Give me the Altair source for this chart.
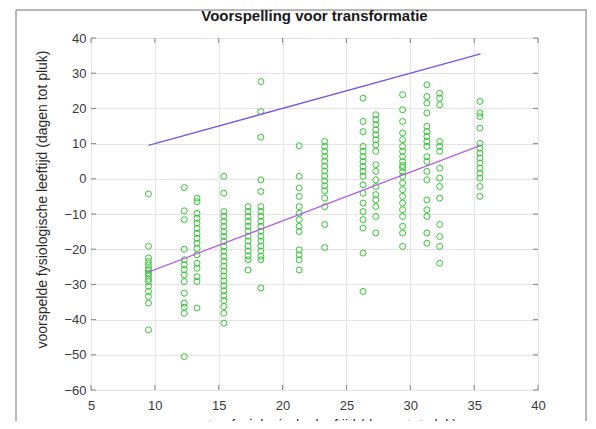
import altair as alt
import pandas as pd

# ---- data ----
col_x = [9.5, 12.3, 13.3, 15.4, 17.3, 18.3, 21.3, 23.3, 26.3, 27.3, 29.4, 31.3, 32.3, 35.45]

y_c1 = [-4.3, -19.2, -22.5, -23.5, -24.5, -25.5, -26, -26.8, -27.5, -28.5, -29.2, -30.5, -32, -33.4, -35.3, -42.9]
y_c2 = [-2.5, -9.1, -11.6, -20, -23, -24.4, -25.8, -27.3, -29.2, -32.5, -35.3, -36.5, -38.2, -50.5]
y_c3 = [-5.5, -6.5, -9.8, -11.2, -12.6, -14.1, -15.5, -16.9, -18.3, -19.8, -21.6, -24, -25.4, -27.8, -29.2, -36.7]
y_c4 = [0.7, -4.1, -9.3, -10.7, -12.1, -13.5, -15, -16.4, -17.8, -19.2, -20.6, -22, -23.4, -24.8,
        -26.2, -27.6, -29, -30.4, -31.8, -33.2, -34.6, -36.3, -38.2, -41]
y_c5 = [-7.9, -9.3, -10.7, -12.1, -13.5, -14.9, -16.3, -17.7, -19.1, -20.5, -21.9, -23, -25.9]
y_c6 = [27.6, 19.1, 11.8, -0.3, -3.6, -7.9, -9.3, -10.7, -12.1, -13.5, -14.9, -16.3, -17.7, -19.1,
        -20.5, -22, -23, -31]
y_c7 = [9.4, 0.7, -2.6, -5, -7.9, -9.8, -11.6, -13.5, -15, -20.2, -21.6, -23, -25.9]
y_c8 = [10.6, 9.2, 7.8, 6.4, 5, 3.6, 2.2, 0.8, -0.6, -2, -3.4, -5.5, -7.9, -13, -19.5]
y_c9 = [22.9, 16.3, 13.4, 9.2, 7.8, 6.3, 4.9, 3.5, 2.1, 0.7, -1.7, -4.1, -6.9, -9.3, -11.6, -14, -21.1, -32]
y_c10 = [18.2, 16.8, 15.4, 13.9, 12.5, 11.1, 9.6, 7.8, 4, 2.1, -0.3, -2.2, -4.5, -6, -7.9, -10.7, -15.4]
y_c11 = [23.9, 19.6, 16.3, 13, 11.1, 9.2, 7.8, 6.3, 4.9, 3.8, 3.2, 2, 0.7, -1.2, -3.1, -5, -6.9, -8.8,
         -10.7, -13.5, -15.4, -19.2]
y_c12 = [26.7, 23.4, 21.5, 18.7, 14.9, 13.4, 12, 10.6, 9.2, 6.3, 4.9, 2.1, -0.3, -6, -8.8, -10.7, -15.4, -18.3]
y_c13 = [24.3, 22.9, 21, 10.6, 9.2, 7.8, 3, 0.2, -2.2, -5.5, -13, -16.4, -19.2, -24]
y_c14 = [22, 18.7, 17.7, 14.4, 10.1, 8.7, 7.3, 5.9, 4.5, 3, 1.6, 0.2, -2.2, -5]

line_x = [9.5, 35.5]
upper_y = [9.5, 35.5]
lower_y = [-26.5, 9.5]

x_ticks = [5, 10, 15, 20, 25, 30, 35, 40]
y_ticks = [-60, -50, -40, -30, -20, -10, 0, 10, 20, 30, 40]

title_text = "Voorspelling voor transformatie"
x_title = "gemeten fysiologische leeftijd (dagen tot pluk)"
y_title = "voorspelde fysiologische leeftijd (dagen tot pluk)"

# ---- build tables ----
cols = [y_c1, y_c2, y_c3, y_c4, y_c5, y_c6, y_c7, y_c8, y_c9, y_c10, y_c11, y_c12, y_c13, y_c14]
rows = []
for xv, ys in zip(col_x, cols):
    for yv in ys:
        rows.append({"x": xv, "y": yv})
pts = pd.DataFrame(rows)

lines = pd.DataFrame({
    "x": line_x + line_x,
    "y": upper_y + lower_y,
    "s": ["upper", "upper", "lower", "lower"],
})
xt = pd.DataFrame({"t": x_ticks})
yt = pd.DataFrame({"t": y_ticks})
one = pd.DataFrame({"k": [0]})

FONT = "Liberation Sans"
xs = alt.Scale(domain=[5, 40], nice=False, zero=False)
ys_ = alt.Scale(domain=[-60, 40], nice=False, zero=False)

x_axis = alt.Axis(values=x_ticks, grid=True, gridColor="#e4e4e4", tickSize=0, domain=False,
                  labelOverlap=False, labelFlush=False,
                  labelFont=FONT, labelFontSize=13, labelColor="#3a3a3a", labelPadding=9,
                  title=x_title, titleFont=FONT, titleFontSize=14, titleFontWeight="normal",
                  titleColor="#2a2a2a", titleBaseline="top", titleY=28)
y_axis = alt.Axis(values=y_ticks, grid=True, gridColor="#e4e4e4", tickSize=0, domain=False,
                  labelOverlap=False, labelFlush=False,
                  labelFont=FONT, labelFontSize=13, labelColor="#3a3a3a", labelPadding=5,
                  title=y_title, titleFont=FONT, titleFontSize=14, titleFontWeight="normal",
                  titleColor="#2a2a2a", titleX=-49, titleY=161, titleBaseline="middle",
                  titleAlign="center", titleAngle=270)

fc = "#a0a0a0"
f_left = alt.Chart(one).mark_rule(color=fc, strokeWidth=1.5).encode(
    x=alt.value(-75), y=alt.value(-28), y2=alt.value(430))
f_top = alt.Chart(one).mark_rule(color=fc, strokeWidth=1.5).encode(
    x=alt.value(-75), x2=alt.value(496), y=alt.value(-28))
f_right = alt.Chart(one).mark_rule(color=fc, strokeWidth=1.5).encode(
    x=alt.value(495), y=alt.value(-28), y2=alt.value(430))

title_mark = alt.Chart(one).mark_text(text=title_text, font=FONT, fontSize=15, fontWeight="bold",
                                      color="#1a1a1a", align="center", baseline="middle").encode(
    x=alt.value(223.5), y=alt.value(-22))

points = alt.Chart(pts).mark_point(shape="circle", filled=False, size=36, strokeWidth=1,
                                   color="#2cc22c", opacity=0.95).encode(
    x=alt.X("x:Q", scale=xs, axis=x_axis),
    y=alt.Y("y:Q", scale=ys_, axis=y_axis),
)

reg = alt.Chart(lines).mark_line(strokeWidth=1.3).encode(
    x=alt.X("x:Q", scale=xs, axis=x_axis),
    y=alt.Y("y:Q", scale=ys_, axis=y_axis),
    detail="s:N",
    color=alt.Color("s:N", scale=alt.Scale(domain=["upper", "lower"], range=["#7a55e0", "#b563dc"]),
                    legend=None),
)

tick_col = "#555555"
bt = alt.Chart(xt).mark_tick(orient="vertical", size=5, yOffset=-2.5, color=tick_col, thickness=1).encode(
    x=alt.X("t:Q", scale=xs, axis=x_axis), y=alt.datum(-60, scale=ys_, axis=y_axis))
tt = alt.Chart(xt).mark_tick(orient="vertical", size=5, yOffset=2.5, color=tick_col, thickness=1).encode(
    x=alt.X("t:Q", scale=xs, axis=x_axis), y=alt.datum(40, scale=ys_, axis=y_axis))
lt = alt.Chart(yt).mark_tick(orient="horizontal", size=5, xOffset=2.5, color=tick_col, thickness=1).encode(
    y=alt.Y("t:Q", scale=ys_, axis=y_axis), x=alt.datum(5, scale=xs, axis=x_axis))
rt = alt.Chart(yt).mark_tick(orient="horizontal", size=5, xOffset=-2.5, color=tick_col, thickness=1).encode(
    y=alt.Y("t:Q", scale=ys_, axis=y_axis), x=alt.datum(40, scale=xs, axis=x_axis))

chart = alt.layer(points, reg, bt, tt, lt, rt, f_left, f_top, f_right, title_mark).properties(
    width=447, height=352,
    padding={"left": 83, "top": 30, "right": 50, "bottom": 31},
    autosize=alt.AutoSizeParams(type="none"),
    background="white",
).configure_view(stroke="#6e6e6e", strokeWidth=1)

chart.save("out.html", embed_options={"renderer": "svg", "actions": False})
